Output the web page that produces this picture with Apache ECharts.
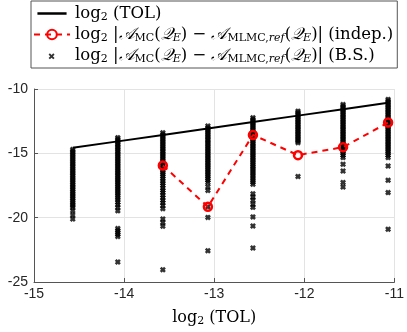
<!DOCTYPE html>
<html lang="en">
<head>
    <meta charset="UTF-8">
    <title>MLMC error</title>
    <style>
        *{
            margin: 0;
            padding: 0;
        }
        .main{
            width: 407px;
            height: 332px;
            background: #ffffff;
        }
    </style>
    <script src="https://cdn.jsdelivr.net/npm/echarts@6/dist/echarts.min.js"></script>
</head>
<body>
<div class="main"></div>
<script>
    // log2(TOL) levels
    let tolX = [-14.57, -14.07, -13.57, -13.07, -12.57, -12.07, -11.57, -11.07];

    // independent runs (only the last six levels)
    let indepX = [-13.57, -13.07, -12.57, -12.07, -11.57, -11.07];
    let indepY = [-15.94, -19.15, -13.57, -15.14, -14.52, -12.61];

    // bootstrap samples, one list per level
    let bs1 = [-14.70,-14.83,-14.95,-15.10,-15.22,-15.36,-15.50,-15.63,-15.77,-15.90,-16.04,-16.18,-16.31,-16.45,-16.58,-16.72,-16.86,-17.00,-17.13,-17.27,-17.41,-17.55,-17.68,-17.82,-17.96,-18.10,-18.24,-18.38,-18.52,-18.66,-18.80,-18.95,-19.08,-19.21,-19.47,-19.80,-20.10];
    let bs2 = [-13.78,-13.90,-14.04,-14.17,-14.30,-14.44,-14.57,-14.71,-14.84,-14.98,-15.11,-15.25,-15.38,-15.52,-15.65,-15.79,-15.92,-16.06,-16.20,-16.33,-16.47,-16.60,-16.74,-16.88,-17.02,-17.15,-17.29,-17.43,-17.57,-17.71,-17.85,-18.00,-18.14,-18.30,-18.46,-18.62,-18.80,-19.00,-19.20,-19.47,-20.84,-21.00,-21.15,-21.30,-21.46,-23.45];
    let bs3 = [-13.40,-13.53,-13.66,-13.80,-13.93,-14.06,-14.20,-14.33,-14.46,-14.60,-14.73,-14.86,-15.00,-15.13,-15.27,-15.40,-15.54,-15.67,-15.81,-15.95,-16.08,-16.22,-16.36,-16.50,-16.65,-16.80,-16.98,-17.15,-17.32,-17.50,-17.70,-17.88,-18.05,-18.25,-18.45,-18.65,-18.85,-19.05,-19.30,-20.10,-20.38,-20.66,-24.05];
    let bs4 = [-12.88,-13.01,-13.14,-13.27,-13.40,-13.54,-13.67,-13.80,-13.94,-14.07,-14.20,-14.34,-14.47,-14.61,-14.74,-14.88,-15.01,-15.15,-15.28,-15.42,-15.55,-15.69,-15.83,-15.96,-16.10,-16.24,-16.38,-16.52,-16.66,-16.80,-16.95,-17.10,-17.27,-17.60,-17.88,-19.15,-19.98,-22.57];
    let bs5 = [-12.23,-12.36,-12.49,-12.62,-12.75,-12.88,-13.02,-13.15,-13.28,-13.42,-13.55,-13.68,-13.82,-13.95,-14.09,-14.22,-14.36,-14.49,-14.63,-14.76,-14.90,-15.04,-15.17,-15.31,-15.45,-15.59,-15.73,-15.87,-16.01,-16.15,-16.30,-16.45,-16.60,-16.76,-16.92,-17.08,-17.24,-17.40,-18.15,-18.40,-18.65,-18.95,-19.20,-19.94,-20.65,-22.36];
    let bs6 = [-11.72,-11.85,-11.98,-12.11,-12.24,-12.37,-12.50,-12.63,-12.76,-12.89,-13.02,-13.15,-13.28,-13.41,-13.54,-13.67,-13.80,-13.93,-14.05,-14.17,-16.80];
    let bs7 = [-11.20,-11.33,-11.46,-11.59,-11.72,-11.85,-11.98,-12.11,-12.24,-12.37,-12.50,-12.63,-12.76,-12.89,-13.02,-13.15,-13.28,-13.41,-13.54,-13.67,-13.80,-13.93,-14.06,-14.19,-14.32,-14.45,-14.58,-14.72,-14.86,-15.00,-15.15,-15.33,-15.85,-16.37,-17.27,-17.62];
    let bs8 = [-10.81,-10.94,-11.07,-11.20,-11.33,-11.46,-11.59,-11.72,-11.85,-11.98,-12.11,-12.24,-12.37,-12.50,-12.63,-12.76,-12.89,-13.02,-13.15,-13.28,-13.41,-13.54,-13.67,-13.80,-13.93,-14.06,-14.19,-14.32,-14.45,-14.58,-14.72,-14.86,-15.00,-15.15,-15.33,-15.98,-17.09,-18.05,-20.90];

    let bsCols = [bs1, bs2, bs3, bs4, bs5, bs6, bs7, bs8];

    let main = document.querySelector('.main');
    let chart = echarts.init(main);

    let tolData = tolX.map(x => [x, x]);
    let indepData = indepX.map((x, i) => [x, indepY[i]]);
    let bsData = [];
    bsCols.forEach((col, i) => {
        col.forEach(v => bsData.push([tolX[i], v]));
    });

    let cross = 'path://M3,0L5,2L7,0L10,3L8,5L10,7L7,10L5,8L3,10L0,7L2,5L0,3Z';
    // legend icons: tiny corner dots keep the box at the full item size
    let corners = 'M0,0L0.01,0L0,0.01ZM36,14L35.99,14L36,13.99Z';
    let tolIcon = 'path://' + corners + 'M1,5.5L35,5.5L35,8.5L1,8.5Z';
    let crossIcon = 'path://' + corners + 'M15.5,4.5L17.5,6.5L19.5,4.5L21,6L19,8L21,10L19.5,11.5L17.5,9.5L15.5,11.5L14,10L16,8L14,6Z';

    let serif = 'DejaVu Serif';
    let rich = {
        n: {fontFamily: serif, fontSize: 16.5, color: '#000'},
        s: {fontFamily: serif, fontSize: 11, color: '#000', padding: [8, 0, 0, 0]},
        i: {fontFamily: serif, fontSize: 11, fontStyle: 'italic', color: '#000', padding: [8, 0, 0, 0]},
        a: {fontFamily: serif, fontSize: 16.5, fontStyle: 'italic', color: '#000'}
    };
    let absTerm = '{n|log}{s|2}{n| |}{a|𝒜}{s|MC}{n|(}{a|𝒬}{i|E}{n|) − }{a|𝒜}{s|MLMC,}{i|ref}{n|(}{a|𝒬}{i|E}{n|)|}';
    let labels = {
        tol: '{n|log}{s|2}{n| (TOL)}',
        indep: absTerm + '{n| (indep.)}',
        bs: absTerm + '{n| (B.S.)}'
    };

    let option = {
        animation: false,
        grid: {
            left: 34,
            right: 8,
            top: 89,
            bottom: 49
        },
        legend: {
            data: [
                {name: 'tol', icon: tolIcon},
                {name: 'indep'},
                {name: 'bs', icon: crossIcon}
            ],
            orient: 'vertical',
            left: 31,
            top: 1,
            padding: [4, 4, 3, 2],
            itemGap: 3,
            itemWidth: 36,
            itemHeight: 12,
            borderColor: '#555',
            borderWidth: 1,
            backgroundColor: '#fff',
            formatter: name => labels[name],
            textStyle: {rich}
        },
        xAxis: {
            type: 'value',
            min: -15,
            max: -11,
            interval: 1,
            name: '{n|log}{s|2}{n| (TOL)}',
            nameLocation: 'middle',
            nameGap: 26,
            nameTextStyle: {rich: {
                n: {fontFamily: serif, fontSize: 16, color: '#000'},
                s: {fontFamily: serif, fontSize: 11, color: '#000', padding: [8, 0, 0, 0]}
            }},
            axisLine: {onZero: false, lineStyle: {color: '#555'}},
            axisTick: {inside: true, length: 4, lineStyle: {color: '#555'}},
            axisLabel: {fontFamily: 'Liberation Sans', fontSize: 14, color: '#262626', margin: 5},
            splitLine: {lineStyle: {color: '#e3e3e3'}}
        },
        yAxis: {
            type: 'value',
            min: -25,
            max: -10,
            interval: 5,
            axisLine: {show: true, onZero: false, lineStyle: {color: '#555'}},
            axisTick: {show: true, inside: true, length: 4, lineStyle: {color: '#555'}},
            axisLabel: {fontFamily: 'Liberation Sans', fontSize: 14, color: '#262626', margin: 6},
            splitLine: {lineStyle: {color: '#e3e3e3'}}
        },
        series: [
            {
                name: 'tol',
                type: 'line',
                data: tolData,
                symbol: 'none',
                lineStyle: {color: '#000', width: 2},
                itemStyle: {color: '#000'},
                z: 2
            },
            {
                name: 'bs',
                type: 'scatter',
                data: bsData,
                symbol: cross,
                symbolSize: 6,
                itemStyle: {color: '#000'},
                z: 3
            },
            {
                name: 'indep',
                type: 'line',
                data: indepData,
                symbol: 'circle',
                symbolSize: 8,
                showAllSymbol: true,
                lineStyle: {color: '#ff0000', width: 2, type: [6, 5]},
                itemStyle: {color: 'rgba(255,0,0,0)', borderColor: '#ff0000', borderWidth: 2.5},
                z: 4
            }
        ]
    };
    chart.setOption(option);
</script>
</body>
</html>
